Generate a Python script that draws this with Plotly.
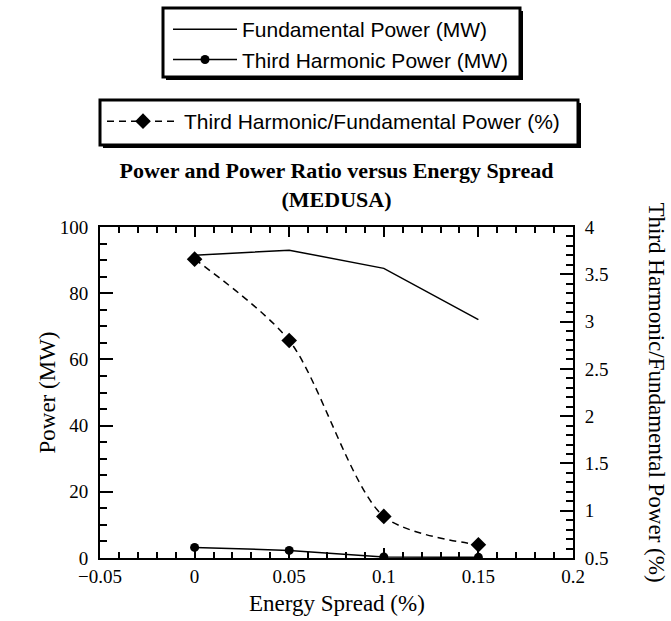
import plotly.graph_objects as go

# ---- data ----
energy_spread = [0.0, 0.05, 0.1, 0.15]
fundamental_power = [91.5, 93.0, 87.5, 72.0]
third_harmonic_power = [3.2, 2.3, 0.3, 0.2]
ratio_pct = [3.66, 2.80, 0.94, 0.64]

x_ticks = [-0.05, 0, 0.05, 0.1, 0.15, 0.2]
x_ticklabels = ["\u22120.05", "0", "0.05", "0.1", "0.15", "0.2"]
y_ticks = [0, 20, 40, 60, 80, 100]
y2_ticks = [0.5, 1, 1.5, 2, 2.5, 3, 3.5, 4]
y2_ticklabels = ["0.5", "1", "1.5", "2", "2.5", "3", "3.5", "4"]

SERIF = "Liberation Serif"
SANS = "Liberation Sans"

W, H = 671, 621
L, R, T, B = 100, 98, 227, 63
PW, PH = W - L - R, H - T - B


def px2paper(px, py):
    return (px - L) / PW, (H - B - py) / PH


fig = go.Figure()

fig.add_trace(go.Scatter(
    x=energy_spread, y=fundamental_power, mode="lines",
    name="Fundamental Power (MW)",
    line=dict(color="black", width=1.5),
    legend="legend",
))
fig.add_trace(go.Scatter(
    x=energy_spread, y=third_harmonic_power, mode="lines+markers",
    name="Third Harmonic Power (MW)",
    line=dict(color="black", width=1.5),
    marker=dict(symbol="circle", size=9, color="black"),
    legend="legend",
))
fig.add_trace(go.Scatter(
    x=energy_spread, y=ratio_pct, mode="lines+markers",
    name="Third Harmonic/Fundamental Power (%)",
    line=dict(color="black", width=1.5, dash="7px,5px", shape="spline", smoothing=0.8),
    marker=dict(symbol="diamond", size=12, color="black"),
    yaxis="y2",
    legend="legend2",
))

# legend boxes drawn as shapes (thick framed boxes with a small drop shadow)
shapes = []
for (x0, y0, x1, y1) in [(163, 8, 520, 77), (100, 100, 578, 145)]:
    s0 = px2paper(x0 + 3, y0 + 3)
    s1 = px2paper(x1 + 3, y1 + 3)
    shapes.append(dict(type="rect", xref="paper", yref="paper",
                       x0=s0[0], y0=s0[1], x1=s1[0], y1=s1[1],
                       line=dict(color="black", width=0), fillcolor="black", layer="below"))
    a0, b0 = px2paper(x0, y0)
    a1, b1 = px2paper(x1, y1)
    shapes.append(dict(type="rect", xref="paper", yref="paper",
                       x0=a0, y0=b0, x1=a1, y1=b1,
                       line=dict(color="black", width=3), fillcolor="white", layer="below"))

axis_common = dict(
    showline=True, linecolor="black", linewidth=2,
    ticks="inside", tickcolor="black", tickwidth=1.5,
    showgrid=False, zeroline=False,
    tickfont=dict(family=SERIF, size=19, color="black"),
)

title_font = dict(family=SERIF, size=23, color="black")

fig.update_layout(
    width=W, height=H,
    margin=dict(l=L, r=R, t=T, b=B, autoexpand=False),
    paper_bgcolor="white", plot_bgcolor="white",
    font=dict(family=SERIF, color="black"),
    title=dict(
        text="<b>Power and Power Ratio versus Energy Spread<br>(MEDUSA)</b>",
        font=dict(family=SERIF, size=22, color="black"),
        x=0.5, xref="paper", xanchor="center",
        y=1 - 178 / H, yref="container", yanchor="middle",
    ),
    xaxis=dict(
        range=[-0.05, 0.2], tickvals=x_ticks, ticktext=x_ticklabels,
        ticklen=10, mirror="ticks",
        minor=dict(dtick=0.01, ticks="inside", ticklen=6, tickcolor="black", tickwidth=1.5),
        **axis_common,
    ),
    yaxis=dict(
        range=[0, 100], tickvals=y_ticks, ticklen=13, ticklabelstandoff=6,
        minor=dict(dtick=5, ticks="inside", ticklen=7, tickcolor="black", tickwidth=1.5),
        **axis_common,
    ),
    yaxis2=dict(
        range=[0.5, 4], tickvals=y2_ticks, ticktext=y2_ticklabels, ticklen=13,
        ticklabelstandoff=6,
        overlaying="y", side="right",
        minor=dict(dtick=0.1, ticks="inside", ticklen=7, tickcolor="black", tickwidth=1.5),
        **axis_common,
    ),
    legend=dict(
        x=168 / W, y=1 - 9 / H, xref="container", yref="container",
        xanchor="left", yanchor="top",
        bgcolor="rgba(0,0,0,0)", borderwidth=0,
        font=dict(family=SANS, size=21, color="black"),
        itemwidth=64, tracegroupgap=0,
    ),
    legend2=dict(
        x=102 / W, y=1 - 101 / H, xref="container", yref="container",
        xanchor="left", yanchor="top",
        bgcolor="rgba(0,0,0,0)", borderwidth=0,
        font=dict(family=SANS, size=21, color="black"),
        itemwidth=72,
    ),
    shapes=shapes,
    annotations=[
        dict(text="Third Harmonic/Fundamental Power (%)", textangle=90, showarrow=False,
             xref="paper", yref="paper", x=px2paper(656, 0)[0], y=0.5,
             xanchor="center", yanchor="middle", font=title_font),
        dict(text="Power (MW)", textangle=-90, showarrow=False,
             xref="paper", yref="paper", x=px2paper(47, 0)[0], y=0.5,
             xanchor="center", yanchor="middle", font=title_font),
        dict(text="Energy Spread (%)", showarrow=False,
             xref="paper", yref="paper", x=0.5, y=px2paper(0, 603)[1],
             xanchor="center", yanchor="middle", font=title_font),
    ],
    showlegend=True,
)

fig.write_html("out.html")
